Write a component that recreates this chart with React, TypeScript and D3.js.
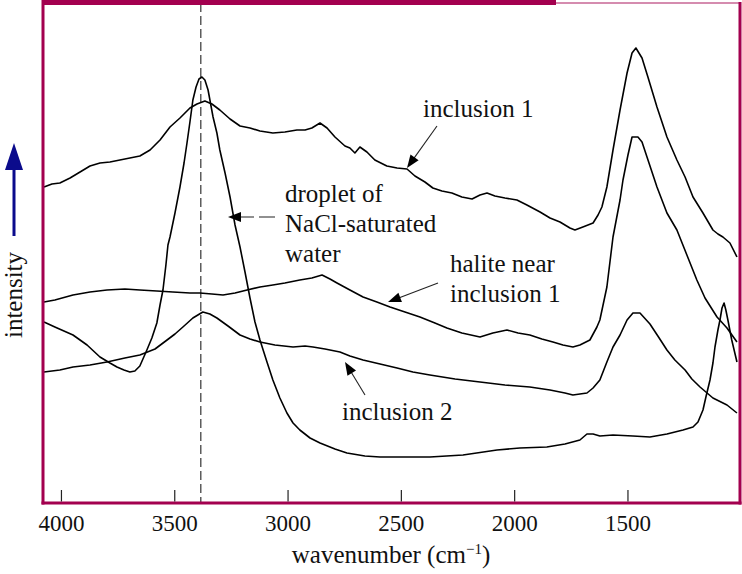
import React from "react";
import * as d3 from "d3";

// wavenumber (cm^-1) and intensity (a.u.) pairs
const inclusion1Wave = [4077,4042,4007,3962,3918,3874,3830,3786,3742,3698,3654,3609,3565,3521,3477,3433,3402,3367,3336,3301,3256,3212,3168,3124,3067,3014,2961,2925,2895,2859,2828,2793,2749,2727,2705,2683,2652,2617,2564,2519,2475,2440,2396,2361,2321,2277,2233,2188,2153,2122,2087,2043,1990,1946,1888,1844,1800,1756,1734,1699,1654,1632,1615,1593,1566,1535,1504,1482,1465,1438,1412,1372,1328,1284,1248,1213,1169,1125,1103,1081,1050,1019];
const inclusion1Int = [63.2,63.8,64.0,65.0,66.2,67.4,68.0,68.2,68.6,69.0,69.4,70.6,72.6,75.2,77.0,79.0,79.8,80.4,79.8,78.6,76.8,75.4,75.0,74.4,74.0,74.2,74.6,74.6,75.0,76.0,75.0,73.2,71.4,71.0,70.0,71.2,70.2,68.6,67.4,67.0,66.8,65.4,64.2,63.0,62.4,62.0,61.2,60.8,61.6,62.0,61.4,61.0,60.6,59.6,58.2,57.0,56.2,55.0,54.6,55.2,56.0,57.6,59.2,63.2,70.6,78.6,86.0,90.0,91.0,89.0,85.2,79.2,73.2,68.6,65.2,61.2,58.0,54.6,53.8,53.2,52.0,49.2];

const haliteWave = [4077,4029,3949,3874,3799,3720,3654,3579,3508,3433,3389,3336,3287,3234,3181,3124,3067,3014,2948,2895,2850,2815,2784,2727,2669,2608,2550,2484,2418,2352,2299,2233,2153,2096,2034,1985,1933,1880,1831,1787,1743,1712,1668,1637,1624,1593,1566,1535,1522,1500,1482,1456,1438,1416,1372,1328,1284,1240,1196,1160,1107,1063,1019];
const haliteInt = [40.2,40.6,41.6,42.2,42.6,42.8,42.6,42.4,42.2,42.0,42.0,41.8,41.6,42.0,42.6,43.2,43.6,44.0,44.6,45.0,45.6,44.8,44.0,42.6,41.2,40.2,39.2,38.2,37.2,36.0,35.0,34.0,33.2,34.0,34.6,34.0,33.6,32.8,32.2,31.6,31.2,31.6,32.6,35.2,36.6,43.2,53.2,60.6,64.6,69.6,73.2,73.2,72.2,69.2,63.2,58.0,54.6,49.6,44.6,41.0,37.2,35.0,32.2];

const inclusion2Wave = [4077,4007,3949,3874,3799,3720,3654,3587,3534,3499,3464,3420,3376,3345,3314,3265,3212,3168,3124,3058,2978,2925,2890,2837,2771,2727,2669,2594,2519,2449,2374,2263,2153,2043,1933,1844,1778,1743,1712,1681,1654,1624,1593,1566,1535,1504,1478,1447,1403,1368,1328,1293,1248,1218,1182,1125,1063,1019];
const inclusion2Int = [26.2,26.6,27.2,27.6,28.2,29.0,29.6,30.8,32.6,33.8,35.2,37.0,38.2,37.8,37.0,35.4,33.6,32.8,32.2,31.6,31.2,31.4,31.2,30.8,30.2,29.4,28.6,27.8,27.0,26.2,25.6,24.8,24.2,23.6,23.2,22.6,22.0,21.6,21.8,22.0,23.0,24.6,28.2,31.2,33.6,36.6,38.0,38.0,35.8,33.4,30.6,28.6,26.6,24.8,23.2,21.0,19.6,18.0];

const dropletWave = [4077,4029,3949,3887,3830,3786,3755,3724,3698,3676,3654,3623,3601,3579,3565,3552,3539,3530,3521,3499,3477,3459,3446,3433,3420,3406,3393,3380,3367,3353,3331,3314,3301,3278,3256,3234,3212,3190,3168,3146,3124,3093,3067,3036,3005,2978,2948,2903,2859,2793,2740,2661,2594,2506,2374,2228,2078,1977,1858,1778,1712,1681,1654,1624,1566,1478,1403,1328,1257,1213,1191,1169,1156,1138,1125,1116,1103,1094,1085,1076,1068,1059,1042,1019];
const dropletInt = [36.2,35.2,33.6,31.6,29.2,28.0,27.2,26.6,26.2,26.4,27.4,30.6,33.0,36.0,39.6,42.6,47.6,51.6,53.2,58.0,63.2,68.0,72.0,76.2,80.6,83.2,84.8,85.2,84.6,82.6,77.2,74.0,70.6,66.0,61.2,55.6,51.2,46.2,41.0,36.2,32.6,28.2,24.6,21.0,18.0,16.0,14.6,13.0,12.0,10.8,10.0,9.4,9.2,9.2,9.2,9.6,10.6,11.0,11.2,11.8,12.6,13.8,13.8,13.4,13.6,13.4,13.2,13.8,14.6,15.2,16.2,18.6,21.2,24.6,28.0,31.2,34.6,36.6,39.0,40.0,38.6,36.6,32.6,28.2];

const tickValues = [4000, 3500, 3000, 2500, 2000, 1500];
const markerWave = 3385;

const W = 742;
const H = 574;
const FRAME = "#a3004f";
const FONT = "'Liberation Serif', 'DejaVu Serif', serif";

function zip(w: number[], v: number[]) {
  return w.map((x, i) => [x, v[i]] as [number, number]);
}

export default function App() {
  const left = 44, right = 739, top = 3, bottom = 503;
  const x = d3.scaleLinear().domain([4077, 1010]).range([left, right]);
  const y = d3.scaleLinear().domain([0, 100]).range([bottom, top]);
  const line = d3.line<[number, number]>().x(d => x(d[0])).y(d => y(d[1]));

  const series = [
    zip(inclusion1Wave, inclusion1Int),
    zip(haliteWave, haliteInt),
    zip(inclusion2Wave, inclusion2Int),
    zip(dropletWave, dropletInt),
  ];

  const arrowHead = (x1: number, y1: number, x2: number, y2: number, len = 13, wid = 5) => {
    const ang = Math.atan2(y2 - y1, x2 - x1);
    const bx = x2 - len * Math.cos(ang), by = y2 - len * Math.sin(ang);
    const px = -Math.sin(ang) * wid, py = Math.cos(ang) * wid;
    return `${x2},${y2} ${bx + px},${by + py} ${bx - px},${by - py}`;
  };

  const arrows = [
    { x1: 437, y1: 126, x2: 407, y2: 168, dash: undefined as string | undefined },
    { x1: 275, y1: 217, x2: 228, y2: 217, dash: "16,5" },
    { x1: 438, y1: 283, x2: 388, y2: 302, dash: undefined },
    { x1: 365, y1: 395, x2: 345, y2: 362, dash: undefined },
  ];

  const texts = [
    { t: "inclusion 1", x: 423, y: 117 },
    { t: "droplet of", x: 285, y: 202 },
    { t: "NaCl-saturated", x: 285, y: 232 },
    { t: "water", x: 285, y: 262 },
    { t: "halite near", x: 450, y: 272 },
    { t: "inclusion 1", x: 450, y: 302 },
    { t: "inclusion 2", x: 342, y: 420 },
  ];

  return (
    <svg width={W} height={H} style={{ position: "absolute", left: 0, top: 0, background: "#fff" }}>
      <rect x={0} y={0} width={W} height={H} fill="#fff" />
      {/* dashed marker line */}
      <line x1={x(markerWave)} x2={x(markerWave)} y1={top} y2={bottom} stroke="#333" strokeWidth={1.2} strokeDasharray="9,4" />
      {/* spectra */}
      {series.map((s, i) => (
        <path key={i} d={line(s) || ""} fill="none" stroke="#000" strokeWidth={1.6} strokeLinejoin="round" />
      ))}
      {/* annotation arrows */}
      {arrows.map((a, i) => {
        const ang = Math.atan2(a.y2 - a.y1, a.x2 - a.x1);
        const ex = a.x2 - 10 * Math.cos(ang), ey = a.y2 - 10 * Math.sin(ang);
        return (
          <g key={i}>
            <line x1={a.x1} y1={a.y1} x2={ex} y2={ey} stroke="#222" strokeWidth={1.1} strokeDasharray={a.dash} />
            <polygon points={arrowHead(a.x1, a.y1, a.x2, a.y2)} fill="#000" />
          </g>
        );
      })}
      {texts.map((t, i) => (
        <text key={i} x={t.x} y={t.y} fontFamily={FONT} fontSize={25} fill="#111">{t.t}</text>
      ))}
      {/* frame */}
      <line x1={556} x2={741} y1={3} y2={3} stroke={FRAME} strokeWidth={1.5} opacity={0.6} />
      <line x1={left - 1.5} x2={556} y1={2.5} y2={2.5} stroke={FRAME} strokeWidth={5} />
      <line x1={left - 1} x2={left - 1} y1={0} y2={bottom + 1.5} stroke={FRAME} strokeWidth={3} />
      <line x1={740} x2={740} y1={2} y2={bottom + 1.5} stroke={FRAME} strokeWidth={3} />
      <line x1={left - 2.5} x2={741.5} y1={bottom} y2={bottom} stroke={FRAME} strokeWidth={3} />
      {/* ticks */}
      {tickValues.map(v => (
        <g key={v}>
          <line x1={x(v)} x2={x(v)} y1={bottom - 1.5} y2={bottom - 13} stroke="#222" strokeWidth={1.2} />
          <text x={x(v)} y={531} textAnchor="middle" fontFamily={FONT} fontSize={23} fill="#111">{v}</text>
        </g>
      ))}
      <text x={391} y={563} textAnchor="middle" fontFamily={FONT} fontSize={25} fill="#111">
        wavenumber (cm<tspan dy={-9} fontSize={15}>−1</tspan><tspan dy={9}>)</tspan>
      </text>
      {/* intensity arrow */}
      <line x1={14} x2={14} y1={236} y2={165} stroke="#0b0b8c" strokeWidth={3} />
      <polygon points="5,170 23,170 14,143" fill="#0b0b8c" />
      <text transform="translate(22,295) rotate(-90)" textAnchor="middle" fontFamily={FONT} fontSize={25} fill="#111">intensity</text>
    </svg>
  );
}
